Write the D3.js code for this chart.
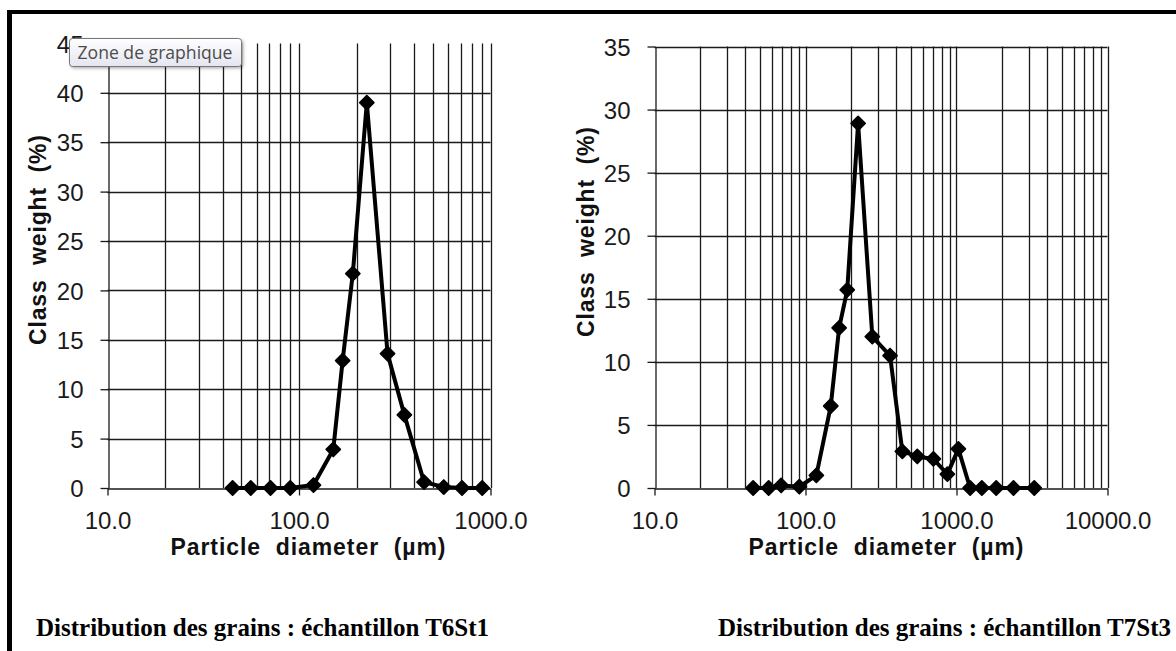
<!DOCTYPE html>
<html>
<head>
<meta charset="utf-8">
<script src="https://cdn.jsdelivr.net/npm/d3@7"></script>
<style>
  html, body { margin: 0; padding: 0; background: #fff; }
  svg { display: block; }
  text { white-space: pre; }
</style>
</head>
<body>
<svg id="fig" width="1176" height="651"></svg>
<script>
// Sample T6St1: particle diameter (µm) and class weight (%)
const t6Diameters = [45, 56, 71, 90, 119, 151, 169, 191, 226, 290, 355, 450, 570, 710, 905];
const t6Weights   = [0, 0, 0, 0, 0.3, 3.9, 12.9, 21.7, 39.0, 13.6, 7.4, 0.6, 0.1, 0, 0];

// Sample T7St3
const t7Diameters = [45, 57, 69, 91, 118, 147, 167, 189, 223, 277, 363, 438, 550, 703, 870, 1029, 1231, 1472, 1832, 2386, 3273];
const t7Weights   = [0, 0, 0.2, 0.1, 1.0, 6.5, 12.7, 15.7, 28.9, 12.0, 10.5, 2.9, 2.5, 2.3, 1.1, 3.1, 0, 0, 0, 0, 0];

// Axis ticks
const t6XTicks = [10, 100, 1000];
const t7XTicks = [10, 100, 1000, 10000];
const t6YTicks = [0, 5, 10, 15, 20, 25, 30, 35, 40, 45];
const t7YTicks = [0, 5, 10, 15, 20, 25, 30, 35];

// Texts
const xTitle = "Particle  diameter  (\u00b5m)";
const yTitle = "Class  weight  (%)";
const captions = ["Distribution des grains : \u00e9chantillon T6St1",
                  "Distribution des grains : \u00e9chantillon T7St3"];
const tooltipText = "Zone de graphique";

const svg = d3.select("#fig");
const TICK_FONT = "'Liberation Sans', Arial, sans-serif";

// Outer frame (top and left edges)
svg.append("line").attr("x1", 9.5).attr("x2", 1176).attr("y1", 12).attr("y2", 12)
  .attr("stroke", "#000").attr("stroke-width", 4);
svg.append("line").attr("x1", 9.5).attr("x2", 9.5).attr("y1", 10).attr("y2", 651)
  .attr("stroke", "#000").attr("stroke-width", 5);

function drawChart(cfg) {
  const g = svg.append("g");
  const x = d3.scaleLog().domain(cfg.xDomain).range([cfg.left, cfg.right]);
  const y = d3.scaleLinear().domain(cfg.yDomain).range([cfg.bottom, cfg.top]);
  const gridColor = "#1a1a1a";

  // vertical grid lines at every 1-2-...-9 step of each decade
  const minor = x.ticks().filter(v => v > cfg.xDomain[0]);
  g.append("g").selectAll("line").data(minor).join("line")
    .attr("x1", d => Math.round(x(d)) + 0.5).attr("x2", d => Math.round(x(d)) + 0.5)
    .attr("y1", cfg.top).attr("y2", cfg.bottom)
    .attr("stroke", gridColor).attr("stroke-width", 1.3);

  // horizontal grid lines
  const hLines = cfg.yTicks.filter(v => v > 0 && (cfg.topLine || v < cfg.yDomain[1]));
  g.append("g").selectAll("line").data(hLines).join("line")
    .attr("x1", cfg.left).attr("x2", cfg.right)
    .attr("y1", d => Math.round(y(d)) + 0.5).attr("y2", d => Math.round(y(d)) + 0.5)
    .attr("stroke", gridColor).attr("stroke-width", 1.3);

  // y axis
  const yAxis = g.append("g").attr("transform", `translate(${Math.round(cfg.left) + 0.5},0)`)
    .call(d3.axisLeft(y).tickValues(cfg.yTicks).tickSize(8).tickPadding(17).tickSizeOuter(0));
  // x axis
  const xAxis = g.append("g").attr("transform", `translate(0,${Math.round(cfg.bottom) + 0.5})`)
    .call(d3.axisBottom(x).tickValues(cfg.xTicks).tickFormat(d3.format(".1f"))
      .tickSize(7).tickPadding(16).tickSizeOuter(0));
  [yAxis, xAxis].forEach(a => {
    a.selectAll("path.domain").attr("stroke", gridColor).attr("stroke-width", 1.3);
    a.selectAll(".tick line").attr("stroke", gridColor).attr("stroke-width", 1.3);
    a.selectAll("text").attr("fill", "#1a1a1a")
      .style("font-family", TICK_FONT).style("font-size", "24px");
  });
  yAxis.selectAll("text").attr("dy", "0.36em");

  // axis titles
  g.append("text")
    .attr("x", cfg.xTitleX).attr("y", 555)
    .attr("text-anchor", "middle")
    .attr("textLength", 275).attr("lengthAdjust", "spacing")
    .style("font-family", TICK_FONT).style("font-size", "23px").style("font-weight", "bold")
    .attr("fill", "#111").text(xTitle);
  g.append("text")
    .attr("transform", `translate(${cfg.yTitleX},${cfg.yTitleY}) rotate(-90)`)
    .attr("text-anchor", "middle").attr("dy", "0.35em")
    .attr("textLength", 210).attr("lengthAdjust", "spacing")
    .style("font-family", TICK_FONT).style("font-size", "23px").style("font-weight", "bold")
    .attr("fill", "#111").text(yTitle);

  // data line and diamond markers
  const pts = cfg.xs.map((d, i) => [d, cfg.ys[i]]);
  g.append("path").datum(pts)
    .attr("d", d3.line().x(d => x(d[0])).y(d => y(d[1])))
    .attr("fill", "none").attr("stroke", "#000").attr("stroke-width", 4)
    .attr("stroke-linejoin", "round");
  g.append("g").selectAll("path").data(pts).join("path")
    .attr("transform", d => `translate(${x(d[0])},${y(d[1])})`)
    .attr("d", "M0,-7L7,0L0,7L-7,0Z")
    .attr("fill", "#000").attr("stroke", "#000").attr("stroke-width", 1.8)
    .attr("stroke-linejoin", "round");

  // caption under the chart
  g.append("text")
    .attr("x", cfg.capX).attr("y", 636).attr("text-anchor", cfg.capAnchor)
    .style("font-family", "'Liberation Serif', 'Times New Roman', serif")
    .style("font-size", "25px").style("font-weight", "bold")
    .attr("fill", "#000").text(cfg.caption);
}

drawChart({
  xs: t6Diameters, ys: t6Weights, xTicks: t6XTicks, yTicks: t6YTicks,
  xDomain: [10, 1000], yDomain: [0, 45],
  left: 107.5, right: 490.5, top: 43.4, bottom: 488, topLine: false,
  xTitleX: 308, yTitleX: 38, yTitleY: 240,
  caption: captions[0], capX: 36, capAnchor: "start"
});

drawChart({
  xs: t7Diameters, ys: t7Weights, xTicks: t7XTicks, yTicks: t7YTicks,
  xDomain: [10, 10000], yDomain: [0, 35],
  left: 654.5, right: 1107.5, top: 46.5, bottom: 488, topLine: true,
  xTitleX: 886, yTitleX: 586, yTitleY: 232,
  caption: captions[1], capX: 1171, capAnchor: "end"
});

// Hover tooltip over the first chart area
const defs = svg.append("defs");
const grad = defs.append("linearGradient").attr("id", "tipFill")
  .attr("x1", 0).attr("y1", 0).attr("x2", 0).attr("y2", 1);
grad.append("stop").attr("offset", "0%").attr("stop-color", "#ffffff");
grad.append("stop").attr("offset", "100%").attr("stop-color", "#e4e5f0");
const shadow = defs.append("filter").attr("id", "tipShadow")
  .attr("x", "-10%").attr("y", "-20%").attr("width", "130%").attr("height", "160%");
shadow.append("feDropShadow").attr("dx", 1.5).attr("dy", 1.5).attr("stdDeviation", 1.5)
  .attr("flood-color", "#000").attr("flood-opacity", 0.3);

const tip = svg.append("g").attr("transform", "translate(69.5,38.5)");
tip.append("rect").attr("width", 172).attr("height", 28).attr("rx", 3)
  .attr("fill", "url(#tipFill)").attr("stroke", "#767676").attr("stroke-width", 1)
  .attr("filter", "url(#tipShadow)");
tip.append("text").attr("x", 8).attr("y", 20)
  .attr("textLength", 155).attr("lengthAdjust", "spacingAndGlyphs")
  .style("font-family", "'Open Sans', 'Noto Sans', sans-serif").style("font-size", "17.5px")
  .attr("fill", "#4c4c4c").text(tooltipText);
</script>
</body>
</html>
